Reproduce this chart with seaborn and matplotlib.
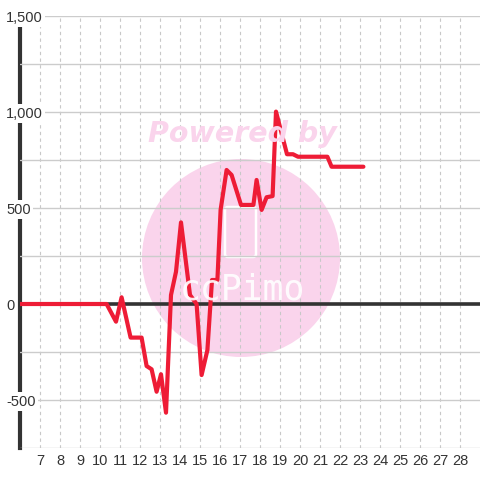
import matplotlib
matplotlib.use("Agg")
import matplotlib.pyplot as plt
import seaborn as sns
import numpy as np
import pandas as pd
from matplotlib.patches import Ellipse, FancyBboxPatch
from matplotlib.ticker import FuncFormatter, MultipleLocator

# ---- data ----
x_vals = [6, 10.33, 10.8, 11.08, 11.53, 12.08, 12.33, 12.58, 12.83, 13.05, 13.3,
          13.55, 13.8, 14.05, 14.5, 14.83, 15.08, 15.37, 15.6, 15.87, 16.03,
          16.33, 16.58, 17.05, 17.67, 17.83, 18.08, 18.33, 18.63, 18.8, 19.35,
          19.65, 19.9, 21.37, 21.58, 23.17]
y_vals = [0, 0, -92, 35, -175, -175, -323, -340, -457, -366, -566,
          47, 168, 425, 47, 0, -370, -240, 125, 125, 490,
          698, 672, 516, 516, 646, 490, 556, 562, 1002, 780,
          780, 767, 767, 715, 715]
x_ticks = list(range(7, 29))
y_ticks = [-500, 0, 500, 1000, 1500]

df = pd.DataFrame({"x": x_vals, "y": y_vals})

sns.set_style("white")
plt.rcParams["font.family"] = ["Liberation Sans", "DejaVu Sans"]

fig = plt.figure(figsize=(4.8, 4.8), dpi=100)
ax = fig.add_axes([20/480, 32/480, 460/480, 432/480])
ax.set_axisbelow(True)

# watermark
circ = Ellipse((241/480, 1 - 258/480), 198/480, 198/480, transform=fig.transFigure,
               facecolor="#fad4ec", edgecolor="none", zorder=0.1)
ax.add_patch(circ)
rect = FancyBboxPatch((225/480, 1 - 257/480), 31/480, 50/480,
                      boxstyle="round,pad=0,rounding_size=0.006",
                      transform=fig.transFigure, facecolor="none",
                      edgecolor="white", linewidth=1.8, zorder=0.2)
ax.add_patch(rect)
fig.text(242/480, 1 - 290/480, "ccPimo", color="white", fontsize=25,
         family="DejaVu Sans Mono", ha="center", va="center", alpha=0.9,
         zorder=0.2)
fig.text(242/480, 1 - 134/480, "Powered by", color="#fad4ec", fontsize=20.5,
         family="DejaVu Sans", fontweight="bold", style="italic",
         ha="center", va="center", zorder=0.2)

sns.lineplot(data=df, x="x", y="y", ax=ax, sort=False, estimator=None,
             color="#ee1c36", linewidth=3, zorder=4)
ax.axhline(0, color="#333333", linewidth=2.6, zorder=3)

ax.set_xlim(6, 29)
ax.set_ylim(-750, 1500)
ax.set_xticks(x_ticks)
ax.set_yticks(y_ticks)
ax.yaxis.set_minor_locator(MultipleLocator(250))
ax.yaxis.set_major_formatter(FuncFormatter(lambda v, p: f"{int(v):,}"))

ax.grid(True, axis="y", which="both", color="#cccccc", linewidth=1, linestyle="-")
ax.grid(True, axis="x", which="major", color="#c8c8c8", linewidth=0.8,
        linestyle=(0, (3, 3)))

for s in ["top", "right", "bottom"]:
    ax.spines[s].set_visible(False)
ax.spines["left"].set_color("#333333")
ax.spines["left"].set_linewidth(3)
ax.spines["left"].set_zorder(0.3)

ax.tick_params(axis="both", which="both", length=0, labelsize=10.5, colors="#333333")
ax.tick_params(axis="y", pad=10)
ax.tick_params(axis="x", pad=4)
for lab in ax.get_yticklabels():
    lab.set_horizontalalignment("left")
    lab.set_bbox(dict(facecolor="white", edgecolor="none", pad=1.5))

ax.set_xlabel("")
ax.set_ylabel("")

fig.savefig("out.png", dpi=100)
